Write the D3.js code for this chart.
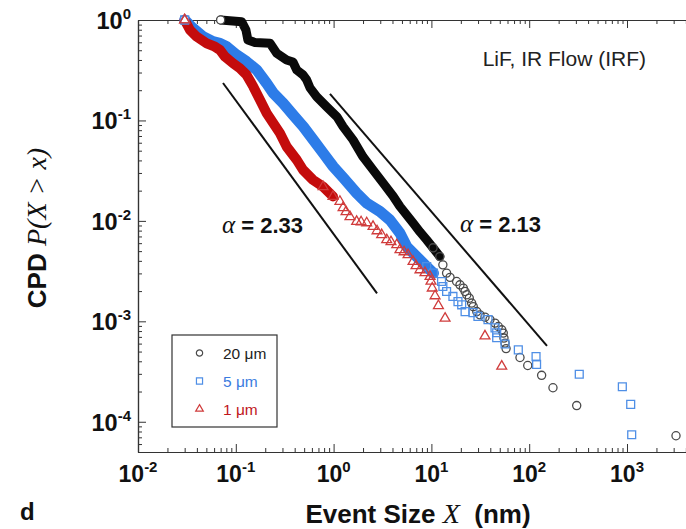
<!DOCTYPE html>
<html>
<head>
<meta charset="utf-8">
<script src="https://cdn.jsdelivr.net/npm/d3@7"></script>
<style>
  body { margin: 0; background: #fff; }
  svg { display: block; }
</style>
</head>
<body>
<svg id="chart" width="686" height="529"></svg>
<script>
// Event sizes X (nm) and complementary cumulative probabilities P(X > x)
const size20 = [0.07, 0.115, 0.127, 0.133, 0.157, 0.224, 0.262, 0.331, 0.384, 0.42, 0.487, 0.531, 0.574, 0.672, 0.849, 1.08, 1.25, 1.58, 2.0, 2.53, 3.2, 4.05, 4.77, 6.53, 7.64, 8.95, 10.4, 12.2, 13.1, 14.3, 15.5, 18.1, 19.6, 21.2, 22.1, 23.0, 24.4, 25.8, 26.8, 29.1, 31.4, 35.3, 39.7, 44.7, 48.3, 52.4, 54.3, 55.2, 56.6, 58.0, 80.5, 96.6, 134, 175, 306, 3170];
const prob20 = [1.0, 0.962, 0.795, 0.632, 0.597, 0.586, 0.466, 0.4, 0.382, 0.318, 0.284, 0.253, 0.211, 0.172, 0.137, 0.109, 0.0867, 0.064, 0.0434, 0.0322, 0.0239, 0.0177, 0.0139, 0.00948, 0.00777, 0.00647, 0.00539, 0.00441, 0.00365, 0.00302, 0.00274, 0.00249, 0.00231, 0.00214, 0.00198, 0.00184, 0.0017, 0.00152, 0.0014, 0.00125, 0.00116, 0.0011, 0.00104, 0.00096, 0.000888, 0.000823, 0.000763, 0.000681, 0.000607, 0.000535, 0.000436, 0.000363, 0.00029, 0.000218, 0.000145, 0.0000726];

const size5 = [0.03, 0.0365, 0.0463, 0.0585, 0.0689, 0.0807, 0.102, 0.129, 0.164, 0.207, 0.242, 0.306, 0.387, 0.49, 0.62, 0.785, 0.993, 1.26, 1.72, 2.18, 2.98, 3.77, 4.77, 5.59, 7.07, 8.95, 10.5, 12.7, 13.1, 14.3, 16.6, 18.7, 20.4, 22.1, 26.6, 29.9, 37.9, 44.7, 46.5, 46.5, 56.6, 77.4, 117.5, 119, 325, 896, 1091, 1117];
const prob5 = [1.0, 0.827, 0.682, 0.608, 0.586, 0.542, 0.449, 0.385, 0.318, 0.234, 0.187, 0.148, 0.113, 0.0867, 0.064, 0.0472, 0.0347, 0.0268, 0.0189, 0.015, 0.0124, 0.0102, 0.00755, 0.00555, 0.00441, 0.00351, 0.00302, 0.00249, 0.00222, 0.00198, 0.00177, 0.00157, 0.00146, 0.00125, 0.00122, 0.00112, 0.00104, 0.000861, 0.000769, 0.000686, 0.000595, 0.00052, 0.000446, 0.000372, 0.000297, 0.000223, 0.000149, 0.0000743];

const size1 = [0.03, 0.034, 0.0398, 0.0504, 0.0612, 0.0689, 0.0776, 0.0936, 0.11, 0.129, 0.151, 0.177, 0.207, 0.242, 0.283, 0.331, 0.42, 0.487, 0.615, 0.78, 0.986, 1.16, 1.25, 1.34, 1.47, 1.72, 1.91, 2.18, 2.53, 2.78, 3.1, 3.49, 3.86, 4.42, 4.77, 5.25, 5.77, 6.49, 6.96, 7.64, 8.6, 9.68, 9.9, 10.2, 10.9, 11.8, 13.8, 35.3, 52.4];
const prob1 = [1.0, 0.795, 0.682, 0.586, 0.542, 0.503, 0.431, 0.371, 0.331, 0.284, 0.217, 0.16, 0.118, 0.0938, 0.0746, 0.0549, 0.0405, 0.0322, 0.0256, 0.0219, 0.0175, 0.0156, 0.0135, 0.0123, 0.011, 0.00984, 0.00977, 0.00955, 0.00877, 0.00795, 0.00726, 0.00647, 0.00618, 0.00577, 0.00515, 0.00491, 0.00459, 0.00394, 0.00357, 0.00325, 0.00304, 0.00279, 0.0025, 0.00214, 0.00179, 0.00143, 0.00107, 0.000714, 0.000357];

// Power-law guide lines: exponent alpha, start point and end size
const fitAlpha = [2.33, 2.13];
const fitStartX = [0.074, 0.918];
const fitStartP = [0.236, 0.1835];
const fitEndX = [2.78, 152];

// Axis ticks (decades)
const xDecades = [-2, -1, 0, 1, 2, 3];
const yDecades = [0, -1, -2, -3, -4];

const svg = d3.select("#chart");
const plotLeft = 138, plotTop = 20, plotBottom = 452, decadeX = 97.8;
const x = d3.scaleLog().domain([1e-2, 1e4]).range([plotLeft, plotLeft + 6 * decadeX]);
const y = d3.scaleLog().domain([5e-5, 1]).range([plotBottom, plotTop]);

const sans = "'Liberation Sans', Arial, Helvetica, sans-serif";
const serif = "'Liberation Serif', 'Times New Roman', serif";

// ---- axes (ticks point into the plot) ----
const allX = x.ticks();
const allY = y.ticks();
const isMajor = v => Math.abs(Math.log10(v) - Math.round(Math.log10(v))) < 1e-9;
const majX = allX.filter(isMajor), minX = allX.filter(v => !isMajor(v));
const majY = allY.filter(isMajor), minY = allY.filter(v => !isMajor(v));

function drawAxis(axisFn, scale, translate, majors, minors, dir) {
  const g = svg.append("g").attr("transform", translate);
  g.append("g").call(axisFn(scale).tickValues(minors).tickSize(4 * dir).tickSizeOuter(0).tickFormat(""));
  g.append("g").call(axisFn(scale).tickValues(majors).tickSize(8 * dir).tickSizeOuter(0).tickFormat(""));
  g.selectAll("path.domain").attr("stroke", "#333").attr("stroke-width", 1.2);
  g.selectAll(".tick line").attr("stroke", "#333").attr("stroke-width", 1);
  return g;
}
drawAxis(d3.axisBottom, x, `translate(0,${plotBottom})`, majX, minX, -1);
drawAxis(d3.axisTop, x, `translate(0,${plotTop})`, majX, minX, -1);
drawAxis(d3.axisLeft, y, `translate(${plotLeft},0)`, majY, minY, -1);
drawAxis(d3.axisRight, y, `translate(${x.range()[1]},0)`, majY, minY, -1);

// tick labels as powers of ten
function powerLabel(sel, exp) {
  sel.append("tspan").text("10");
  sel.append("tspan").attr("font-size", 15).attr("dy", -10).text(exp);
}
xDecades.forEach(e => {
  const t = svg.append("text").attr("x", x(Math.pow(10, e))).attr("y", 482)
    .attr("text-anchor", "middle").attr("font-family", sans).attr("font-weight", "bold")
    .attr("font-size", 23).attr("fill", "#111");
  powerLabel(t, e);
});
yDecades.forEach(e => {
  const t = svg.append("text").attr("x", 131).attr("y", y(Math.pow(10, e)) + 9)
    .attr("text-anchor", "end").attr("font-family", sans).attr("font-weight", "bold")
    .attr("font-size", 23.5).attr("fill", "#111");
  powerLabel(t, e);
});

// axis titles
const xt = svg.append("text").attr("x", 418).attr("y", 523).attr("text-anchor", "middle")
  .attr("font-family", sans).attr("font-weight", "bold").attr("font-size", 26).attr("fill", "#111");
xt.append("tspan").text("Event Size ");
xt.append("tspan").attr("font-family", serif).attr("font-style", "italic").attr("font-weight", "normal").attr("font-size", 28).text("X");
xt.append("tspan").text("\u00a0 (nm)");

const yt = svg.append("text").attr("transform", "translate(46,228) rotate(-90)").attr("text-anchor", "middle")
  .attr("font-family", sans).attr("font-weight", "bold").attr("font-size", 26).attr("fill", "#111");
yt.append("tspan").text("CPD ");
yt.append("tspan").attr("font-family", serif).attr("font-style", "italic").attr("font-weight", "normal").attr("font-size", 28).text("P(X > x)");

svg.append("text").attr("x", 20).attr("y", 520).attr("font-family", sans).attr("font-weight", "bold")
  .attr("font-size", 24).attr("fill", "#111").text("d");

// ---- guide lines ----
fitAlpha.forEach((a, i) => {
  const x0 = fitStartX[i], p0 = fitStartP[i], x1 = fitEndX[i];
  const p1 = p0 * Math.pow(x1 / x0, -(a - 1));
  svg.append("line").attr("x1", x(x0)).attr("y1", y(p0)).attr("x2", x(x1)).attr("y2", y(p1))
    .attr("stroke", "#111").attr("stroke-width", 2);
});
const alphaPos = [[222, 233], [460, 232]];
fitAlpha.forEach((a, i) => {
  const t = svg.append("text").attr("x", alphaPos[i][0]).attr("y", alphaPos[i][1])
    .attr("font-family", sans).attr("font-weight", "bold").attr("font-size", 22).attr("fill", "#111");
  t.append("tspan").attr("font-family", serif).attr("font-style", "italic").attr("font-weight", "normal").attr("font-size", 25).text("\u03b1");
  t.append("tspan").text(" = " + a.toFixed(2));
});

svg.append("text").attr("x", 646).attr("y", 66).attr("text-anchor", "end")
  .attr("font-family", sans).attr("font-size", 21).attr("fill", "#222").text("LiF, IR Flow (IRF)");

// ---- data series ----
const series = [
  { label: "20 \u03bcm", xs: size20, ps: prob20, dense: 28, band: "#0a0a0a", mark: "#4a4a4a", text: "#222", width: 9, symbol: d3.symbolCircle, size: 52 },
  { label: "5 \u03bcm", xs: size5, ps: prob5, dense: 27, band: "#2d7ce8", mark: "#4f8fe6", text: "#3a7be0", width: 11, symbol: d3.symbolSquare, size: 62 },
  { label: "1 \u03bcm", xs: size1, ps: prob1, dense: 21, band: "#c40c0c", mark: "#d03c3c", text: "#c0161c", width: 10, symbol: d3.symbolTriangle, size: 42 }
];

const line = d3.line().x(d => x(d[0])).y(d => y(d[1]));
series.forEach(s => {
  const pts = s.xs.map((v, i) => [v, s.ps[i]]);
  svg.append("path").datum(pts.slice(0, s.dense)).attr("d", line)
    .attr("fill", "none").attr("stroke", s.band).attr("stroke-width", s.width)
    .attr("stroke-linejoin", "round").attr("stroke-linecap", "round");
});
series.forEach(s => {
  const pts = s.xs.map((v, i) => [v, s.ps[i], i]);
  const shown = pts.filter(d => d[2] === 0 || d[2] >= s.dense - 2);
  svg.append("g").selectAll("path").data(shown).join("path")
    .attr("transform", d => `translate(${x(d[0])},${y(d[1])})`)
    .attr("d", d3.symbol().type(s.symbol).size(s.size))
    .attr("fill", d => d[2] === 0 ? "#fff" : "none")
    .attr("stroke", s.mark).attr("stroke-width", 1.3);
});
// redraw the shared first markers so both outlines are visible
series.slice(1).forEach(s => {
  svg.append("path").attr("transform", `translate(${x(s.xs[0])},${y(s.ps[0])})`)
    .attr("d", d3.symbol().type(s.symbol).size(s.size))
    .attr("fill", "none").attr("stroke", s.mark).attr("stroke-width", 1.3);
});

// ---- legend ----
const lg = svg.append("g");
lg.append("rect").attr("x", 172).attr("y", 335).attr("width", 105).attr("height", 92)
  .attr("fill", "#fff").attr("stroke", "#333").attr("stroke-width", 1.2);
series.forEach((s, i) => {
  const cy = 353 + i * 28;
  lg.append("path").attr("transform", `translate(199.5,${cy})`)
    .attr("d", d3.symbol().type(s.symbol).size(s.size * 0.6))
    .attr("fill", "none").attr("stroke", s.mark).attr("stroke-width", 1.2);
  lg.append("text").attr("x", 223).attr("y", cy + 5.5).attr("font-family", sans)
    .attr("font-size", 15.5).attr("fill", s.text).text(s.label);
});
</script>
</body>
</html>
